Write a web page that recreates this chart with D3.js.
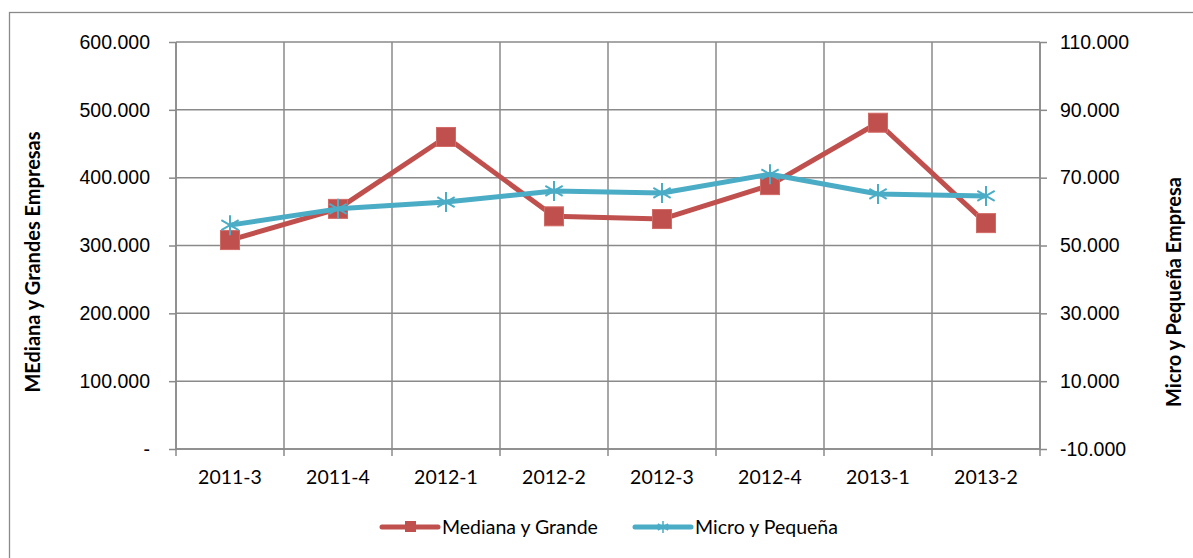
<!DOCTYPE html>
<html lang="es">
<head>
<meta charset="UTF-8">
<title>Mediana y Grande vs Micro y Pequeña</title>
<style>
  body { margin: 0; background: #fff; }
  svg { display: block; font-family: Lato, "Open Sans", sans-serif; }
  .grid line, .axis path, .axis line { stroke: #8a8a8a; stroke-width: 1.5px; }
  .axis text { fill: #000; font-size: 19.5px; }
  .line { fill: none; stroke-width: 5px; stroke-linejoin: round; }
</style>
<script src="https://d3js.org/d3.v7.min.js"></script>
</head>
<body>
<div id="chart"></div>
<script>
// periods (year-quarter)
const categories = ["2011-3", "2011-4", "2012-1", "2012-2", "2012-3", "2012-4", "2013-1", "2013-2"];
// left axis series
const medianaGrande = [308000, 354000, 460000, 343000, 339000, 389000, 481000, 333000];
// right axis series
const microPequena = [56000, 60800, 62800, 66100, 65500, 71000, 65200, 64600];
const leftTicks = [0, 100000, 200000, 300000, 400000, 500000, 600000];
const rightTicks = [-10000, 10000, 30000, 50000, 70000, 90000, 110000];

const W = 1193, H = 558;
const margin = { top: 42, right: 153, bottom: 109, left: 176 };
const width = W - margin.left - margin.right,
      height = H - margin.top - margin.bottom;

const red = "#c0504d", blue = "#4bacc6";

const es = d3.formatLocale({ decimal: ",", thousands: ".", grouping: [3], currency: ["$", ""], minus: "-" });
const fmt = es.format(",.0f");

const svg = d3.select("#chart").append("svg")
    .attr("width", W).attr("height", H);

// outer chart border (runs past the picture on the right and bottom)
svg.append("rect")
    .attr("x", 9.5).attr("y", 12.5)
    .attr("width", W + 20).attr("height", H + 20)
    .attr("fill", "none").attr("stroke", "#8a8a8a").attr("stroke-width", 1.3);

const g = svg.append("g")
    .attr("transform", "translate(" + margin.left + "," + margin.top + ")");

const x = d3.scaleBand().domain(categories).range([0, width]);
const yL = d3.scaleLinear().domain([0, 600000]).range([height, 0]);
const yR = d3.scaleLinear().domain([-10000, 110000]).range([height, 0]);

// gridlines
const grid = g.append("g").attr("class", "grid");
grid.selectAll(".h").data(leftTicks).join("line")
    .attr("x1", 0).attr("x2", width)
    .attr("y1", d => yL(d)).attr("y2", d => yL(d));
grid.selectAll(".v").data(categories.concat([null])).join("line")
    .attr("x1", (d, i) => i * x.step()).attr("x2", (d, i) => i * x.step())
    .attr("y1", 0).attr("y2", height);

// left axis
g.append("g").attr("class", "axis")
    .call(d3.axisLeft(yL).tickValues(leftTicks).tickSize(7).tickPadding(19)
        .tickFormat(d => d === 0 ? "-" : fmt(d)))
    .call(a => a.select(".domain").attr("d", "M0," + height + "V0"));

// right axis
g.append("g").attr("class", "axis")
    .attr("transform", "translate(" + width + ",0)")
    .call(d3.axisRight(yR).tickValues(rightTicks).tickSize(7).tickPadding(13)
        .tickFormat(fmt))
    .call(a => a.select(".domain").attr("d", "M0," + height + "V0"));

// bottom axis, ticks between categories
const xAx = g.append("g").attr("class", "axis")
    .attr("transform", "translate(0," + height + ")");
xAx.append("line").attr("x1", 0).attr("x2", width);
xAx.selectAll(".tk").data(categories.concat([null])).join("line")
    .attr("x1", (d, i) => i * x.step()).attr("x2", (d, i) => i * x.step())
    .attr("y1", 0).attr("y2", 7);
xAx.selectAll("text").data(categories).join("text")
    .attr("x", d => x(d) + x.bandwidth() / 2)
    .attr("y", 35)
    .attr("text-anchor", "middle")
    .text(d => d);

// axis titles
svg.append("text")
    .attr("transform", "translate(40,262) rotate(-90)")
    .attr("text-anchor", "middle")
    .attr("font-size", 20).attr("font-weight", "bold")
    .text("MEdiana y Grandes Empresas");
svg.append("text")
    .attr("transform", "translate(1181,292) rotate(-90)")
    .attr("text-anchor", "middle")
    .attr("font-size", 20).attr("font-weight", "bold")
    .text("Micro y Pequeña Empresa");

const cx = i => x(categories[i]) + x.bandwidth() / 2;

// Mediana y Grande
g.append("path").datum(medianaGrande)
    .attr("class", "line").attr("stroke", red)
    .attr("d", d3.line().x((d, i) => cx(i)).y(d => yL(d)));
g.selectAll(".sq").data(medianaGrande).join("rect")
    .attr("x", (d, i) => cx(i) - 9.5).attr("y", d => yL(d) - 9.5)
    .attr("width", 19).attr("height", 19)
    .attr("fill", red).attr("stroke", "#d26a66").attr("stroke-width", 1);

// Micro y Pequeña
g.append("path").datum(microPequena)
    .attr("class", "line").attr("stroke", blue)
    .attr("d", d3.line().x((d, i) => cx(i)).y(d => yR(d)));

function star(sel, r, sw) {
  const a = r * 0.866, b = r * 0.5;
  sel.append("path")
      .attr("d", "M0," + (-r) + "V" + r +
                 "M" + (-a) + "," + (-b) + "L" + a + "," + b +
                 "M" + (-a) + "," + b + "L" + a + "," + (-b))
      .attr("stroke", blue).attr("stroke-width", sw).attr("fill", "none");
}
g.selectAll(".st").data(microPequena).join("g")
    .attr("transform", (d, i) => "translate(" + cx(i) + "," + yR(d) + ")")
    .each(function () { star(d3.select(this), 10, 2); });

// legend
const legend = svg.append("g").attr("transform", "translate(0,527)");
const items = [
  { name: "Mediana y Grande", color: red, x0: 382, type: "sq" },
  { name: "Micro y Pequeña", color: blue, x0: 635, type: "st" }
];
items.forEach(it => {
  legend.append("line")
      .attr("x1", it.x0).attr("x2", it.x0 + 56)
      .attr("stroke", it.color).attr("stroke-width", 5).attr("stroke-linecap", "round");
  if (it.type === "sq") {
    legend.append("rect").attr("x", it.x0 + 23).attr("y", -6)
        .attr("width", 11).attr("height", 11).attr("fill", it.color);
  } else {
    star(legend.append("g").attr("transform", "translate(" + (it.x0 + 28) + ",0)"), 6, 1.5);
  }
  legend.append("text")
      .attr("x", it.x0 + 60).attr("y", 7)
      .attr("font-size", 19.5)
      .text(it.name);
});
</script>
</body>
</html>
